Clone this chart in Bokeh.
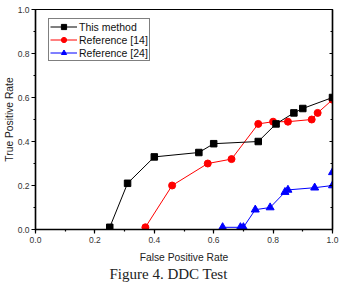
from bokeh.plotting import figure
from bokeh.models import (LinearAxis, SingleIntervalTicker, Legend, LegendItem,
                          Title, Range1d, NumeralTickFormatter, CustomJSTickFormatter)
from bokeh.embed import file_html
from bokeh.resources import INLINE

# ROC points for the three detectors (false positive rate, true positive rate)
fpr_this = [0.25, 0.31, 0.40, 0.55, 0.60, 0.75, 0.81, 0.87, 0.90, 1.00]
tpr_this = [0.01, 0.21, 0.33, 0.35, 0.39, 0.40, 0.48, 0.53, 0.55, 0.60]

fpr_ref14 = [0.37, 0.46, 0.58, 0.66, 0.75, 0.80, 0.85, 0.93, 0.95, 1.00]
tpr_ref14 = [0.01, 0.20, 0.30, 0.32, 0.48, 0.49, 0.49, 0.50, 0.53, 0.59]

fpr_ref24 = [0.63, 0.69, 0.70, 0.74, 0.79, 0.84, 0.85, 0.94, 1.00, 1.00]
tpr_ref24 = [0.01, 0.01, 0.01, 0.09, 0.10, 0.17, 0.18, 0.19, 0.20, 0.26]

series_names = ["This method", "Reference [14]", "Reference [24]"]

FONT = "Liberation Sans"

p = figure(width=339, height=292, output_backend="svg", toolbar_location=None,
           x_range=Range1d(0, 1), y_range=Range1d(0, 1),
           x_axis_label="False Positive Rate", y_axis_label="True Positive Rate",
           min_border_left=34, min_border_right=7, min_border_top=9,
           min_border_bottom=63)
p.background_fill_color = "white"
p.border_fill_color = "white"
p.xgrid.visible = False
p.ygrid.visible = False
p.outline_line_color = "black"
p.outline_line_width = 1.2

for ax in (p.xaxis[0], p.yaxis[0]):
    ax.ticker = SingleIntervalTicker(interval=0.2, num_minor_ticks=2)
    ax.formatter = NumeralTickFormatter(format="0.0")
    ax.axis_line_width = 1.5
    ax.major_tick_line_width = 1.2
    ax.minor_tick_line_width = 1.2
    ax.major_tick_out = 4
    ax.major_tick_in = 0
    ax.minor_tick_out = 2
    ax.minor_tick_in = 0
    ax.major_label_text_font = FONT
    ax.major_label_text_font_size = "8.5px"
    ax.major_label_text_color = "#333333"
    ax.axis_label_text_font = FONT
    ax.axis_label_text_font_size = "10.3px"
    ax.axis_label_text_font_style = "normal"
    ax.axis_label_text_color = "#222222"

p.xaxis[0].major_label_standoff = 3
p.xaxis[0].axis_label_standoff = 6
p.yaxis[0].major_label_standoff = 2
p.yaxis[0].axis_label_standoff = 0

# right-hand axis: inward ticks only, no labels
right = LinearAxis(ticker=SingleIntervalTicker(interval=0.2, num_minor_ticks=2),
                   formatter=CustomJSTickFormatter(code="return ''"))
right.axis_line_width = 1.5
right.major_tick_in = 3
right.major_tick_out = 0
right.minor_tick_in = 2
right.minor_tick_out = 0
right.major_label_standoff = 0
p.add_layout(right, "right")

l24 = p.line(fpr_ref24, tpr_ref24, color="blue", line_width=1)
m24 = p.scatter(fpr_ref24, tpr_ref24, marker="triangle", size=8,
                fill_color="blue", line_color="blue")
l14 = p.line(fpr_ref14, tpr_ref14, color="red", line_width=1)
m14 = p.scatter(fpr_ref14, tpr_ref14, marker="circle", size=7,
                fill_color="red", line_color="red")
lt = p.line(fpr_this, tpr_this, color="black", line_width=1)
mt = p.scatter(fpr_this, tpr_this, marker="square", size=6.5,
               fill_color="black", line_color="black")

legend = Legend(items=[
    LegendItem(label=series_names[0], renderers=[lt, mt]),
    LegendItem(label=series_names[1], renderers=[l14, m14]),
    LegendItem(label=series_names[2], renderers=[l24, m24]),
], location=(13, 168))
legend.label_text_font = FONT
legend.label_text_font_size = "10.5px"
legend.label_text_color = "#111111"
legend.label_standoff = 2
legend.label_height = 13
legend.glyph_height = 13
legend.glyph_width = 27
legend.spacing = 0
legend.padding = 1
legend.margin = 0
legend.border_line_color = "black"
legend.border_line_width = 1
legend.background_fill_alpha = 1
p.add_layout(legend)

caption = Title(text="Figure 4. DDC Test", align="left", offset=74,
                text_font="Liberation Serif", text_font_size="15px",
                text_font_style="normal", text_color="#222222", standoff=-3)
p.add_layout(caption, "below")

open("out.html", "w").write(file_html(p, INLINE))
